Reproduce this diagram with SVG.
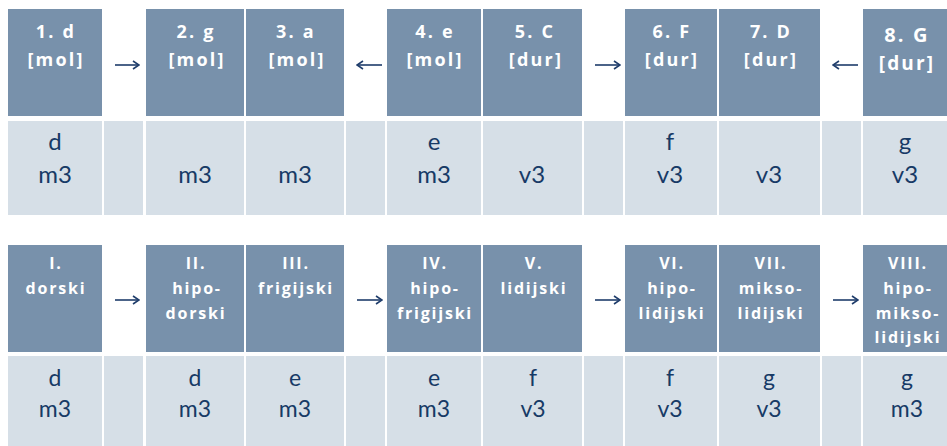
<svg xmlns="http://www.w3.org/2000/svg" width="947" height="446" viewBox="0 0 947 446">
<defs>
<style>
.h{fill:#7891ab}
.b{fill:#d6dfe7}
.ht{fill:#ffffff;font-family:"Open Sans",Lato,sans-serif;font-weight:bold;font-size:18px;letter-spacing:2.2px;text-anchor:middle}
.hs{fill:#ffffff;font-family:"Open Sans",Lato,sans-serif;font-weight:bold;font-size:16px;letter-spacing:1.8px;text-anchor:middle}
.bt{fill:#173a66;font-family:Lato,"Open Sans",sans-serif;font-size:24px;text-anchor:middle}
.bs{fill:#173a66;font-family:Lato,"Open Sans",sans-serif;font-size:23px;text-anchor:middle}
.ar{stroke:#1f3d6b;stroke-width:1.6;fill:none;marker-end:url(#ah)}
</style>
<marker id="ah" viewBox="0 0 8 10" refX="7" refY="5" markerWidth="8" markerHeight="10" markerUnits="userSpaceOnUse" orient="auto">
<path d="M1,1 L7,5 L1,9" fill="none" stroke="#1f3d6b" stroke-width="1.6"/>
</marker>
</defs>
<rect width="947" height="446" fill="#ffffff"/>

<g id="gaps">
<rect class="b" x="104" y="121" width="39" height="94"/>
<rect class="b" x="346" y="121" width="39" height="94"/>
<rect class="b" x="584" y="121" width="39" height="94"/>
<rect class="b" x="822" y="121" width="39" height="94"/>
<rect class="b" x="104" y="356" width="39" height="90"/>
<rect class="b" x="346" y="356" width="39" height="90"/>
<rect class="b" x="584" y="356" width="39" height="90"/>
<rect class="b" x="822" y="356" width="39" height="90"/>
</g>

<g id="t1">
<rect class="h" x="8" y="9" width="94" height="107"/>
<text class="ht" x="56" y="38">1. d</text><text class="ht" x="56" y="66">[mol]</text>
<rect class="b" x="8" y="121" width="94" height="94"/>
<text class="bt" x="55" y="150">d</text><text class="bt" x="55" y="183">m3</text>
</g>
<g id="t2">
<rect class="h" x="146" y="9" width="98" height="107"/>
<text class="ht" x="196" y="38">2. g</text><text class="ht" x="197" y="66">[mol]</text>
<rect class="b" x="146" y="121" width="98" height="94"/>
<text class="bt" x="195" y="183">m3</text>
</g>
<g id="t3">
<rect class="h" x="246" y="9" width="98" height="107"/>
<text class="ht" x="296" y="38">3. a</text><text class="ht" x="297" y="66">[mol]</text>
<rect class="b" x="246" y="121" width="98" height="94"/>
<text class="bt" x="295" y="183">m3</text>
</g>
<g id="t4">
<rect class="h" x="387" y="9" width="94" height="107"/>
<text class="ht" x="435" y="38">4. e</text><text class="ht" x="435" y="66">[mol]</text>
<rect class="b" x="387" y="121" width="94" height="94"/>
<text class="bt" x="434" y="150">e</text><text class="bt" x="434" y="183">m3</text>
</g>
<g id="t5">
<rect class="h" x="483" y="9" width="99" height="107"/>
<text class="ht" x="535" y="38">5. C</text><text class="ht" x="536" y="66">[dur]</text>
<rect class="b" x="483" y="121" width="99" height="94"/>
<text class="bt" x="532" y="183">v3</text>
</g>
<g id="t6">
<rect class="h" x="625" y="9" width="92" height="107"/>
<text class="ht" x="672" y="38">6. F</text><text class="ht" x="672" y="66">[dur]</text>
<rect class="b" x="625" y="121" width="92" height="94"/>
<text class="bt" x="670" y="150">f</text><text class="bt" x="670" y="183">v3</text>
</g>
<g id="t7">
<rect class="h" x="719" y="9" width="101" height="107"/>
<text class="ht" x="771" y="38">7. D</text><text class="ht" x="771" y="66">[dur]</text>
<rect class="b" x="719" y="121" width="101" height="94"/>
<text class="bt" x="769" y="183">v3</text>
</g>
<g id="t8">
<rect class="h" x="863" y="9" width="84" height="107"/>
<text class="ht" x="907" y="42" style="font-size:20px">8. G</text><text class="ht" x="907" y="70" style="font-size:19px">[dur]</text>
<rect class="b" x="863" y="121" width="84" height="94"/>
<text class="bt" x="905" y="150">g</text><text class="bt" x="905" y="183">v3</text>
</g>

<g id="m1">
<rect class="h" x="8" y="245" width="94" height="107"/>
<text class="hs" x="56" y="269">I.</text><text class="hs" x="56" y="294">dorski</text>
<rect class="b" x="8" y="356" width="94" height="90"/>
<text class="bs" x="55" y="386">d</text><text class="bs" x="55" y="417">m3</text>
</g>
<g id="m2">
<rect class="h" x="146" y="245" width="98" height="107"/>
<text class="hs" x="196" y="269">II.</text><text class="hs" x="197" y="294">hipo-</text><text class="hs" x="196" y="319">dorski</text>
<rect class="b" x="146" y="356" width="98" height="90"/>
<text class="bs" x="195" y="386">d</text><text class="bs" x="195" y="417">m3</text>
</g>
<g id="m3">
<rect class="h" x="246" y="245" width="98" height="107"/>
<text class="hs" x="296" y="269">III.</text><text class="hs" x="296" y="294">frigijski</text>
<rect class="b" x="246" y="356" width="98" height="90"/>
<text class="bs" x="295" y="386">e</text><text class="bs" x="295" y="417">m3</text>
</g>
<g id="m4">
<rect class="h" x="387" y="245" width="94" height="107"/>
<text class="hs" x="435" y="269">IV.</text><text class="hs" x="435" y="294">hipo-</text><text class="hs" x="435" y="319">frigijski</text>
<rect class="b" x="387" y="356" width="94" height="90"/>
<text class="bs" x="434" y="386">e</text><text class="bs" x="434" y="417">m3</text>
</g>
<g id="m5">
<rect class="h" x="483" y="245" width="99" height="107"/>
<text class="hs" x="534" y="269">V.</text><text class="hs" x="534" y="294">lidijski</text>
<rect class="b" x="483" y="356" width="99" height="90"/>
<text class="bs" x="533" y="386">f</text><text class="bs" x="533" y="417">v3</text>
</g>
<g id="m6">
<rect class="h" x="625" y="245" width="92" height="107"/>
<text class="hs" x="672" y="269">VI.</text><text class="hs" x="672" y="294">hipo-</text><text class="hs" x="672" y="319">lidijski</text>
<rect class="b" x="625" y="356" width="92" height="90"/>
<text class="bs" x="670" y="386">f</text><text class="bs" x="670" y="417">v3</text>
</g>
<g id="m7">
<rect class="h" x="719" y="245" width="101" height="107"/>
<text class="hs" x="771" y="269">VII.</text><text class="hs" x="771" y="294">mikso-</text><text class="hs" x="771" y="319">lidijski</text>
<rect class="b" x="719" y="356" width="101" height="90"/>
<text class="bs" x="769" y="386">g</text><text class="bs" x="769" y="417">v3</text>
</g>
<g id="m8">
<rect class="h" x="863" y="245" width="84" height="107"/>
<text class="hs" x="908" y="269">VIII.</text><text class="hs" x="908" y="294">hipo-</text><text class="hs" x="908" y="319">mikso-</text><text class="hs" x="908" y="343">lidijski</text>
<rect class="b" x="863" y="356" width="84" height="90"/>
<text class="bs" x="907" y="386">g</text><text class="bs" x="907" y="417">m3</text>
</g>

<g id="connectors">
<path class="ar" d="M115,65 H139"/>
<path class="ar" d="M382,65 H357"/>
<path class="ar" d="M595,65 H620"/>
<path class="ar" d="M858,65 H833"/>
<path class="ar" d="M115,300 H139"/>
<path class="ar" d="M357,300 H382"/>
<path class="ar" d="M595,300 H620"/>
<path class="ar" d="M833,300 H858"/>
</g>
</svg>
